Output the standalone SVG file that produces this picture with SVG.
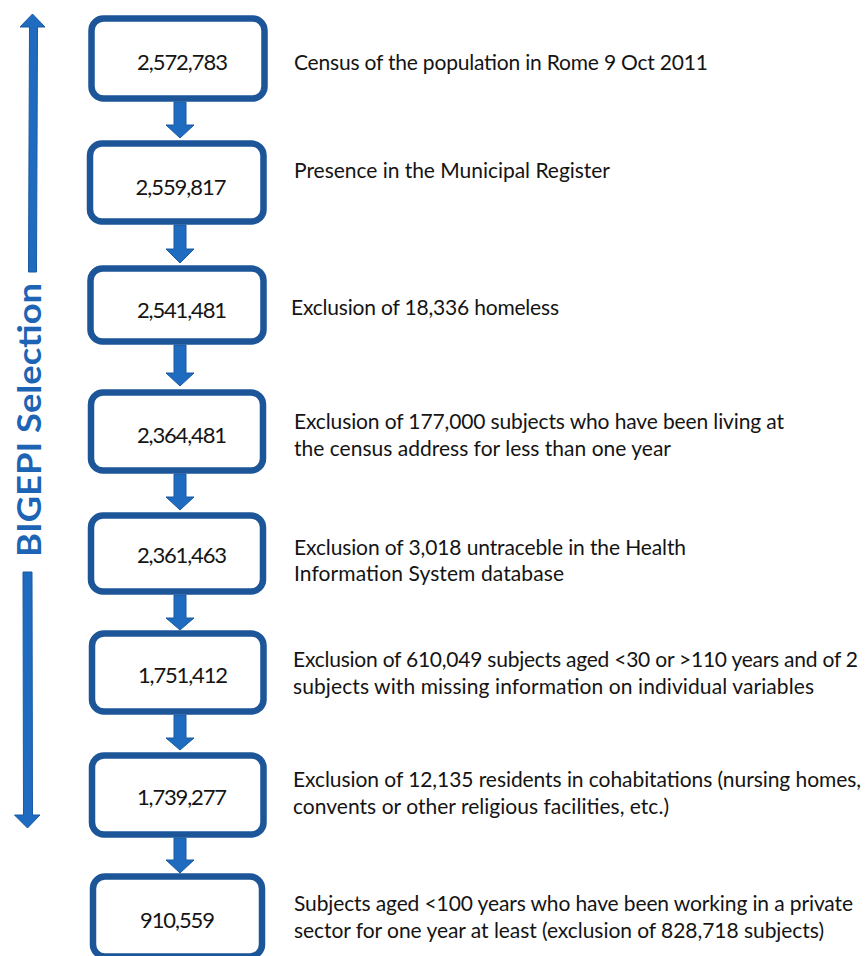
<svg xmlns="http://www.w3.org/2000/svg" width="866" height="956" viewBox="0 0 866 956">
<style>
.box{fill:#ffffff;stroke:#1c5699;stroke-width:6.5}
.num{font-family:Lato,"Liberation Sans",sans-serif;font-size:22px;fill:#141414;text-anchor:middle}
.lbl{font-family:Lato,"Liberation Sans",sans-serif;font-size:21px;fill:#141414}
.arr{fill:#1e6bbf;stroke:#1a5aa2;stroke-width:1}
.side{font-family:Lato,"Liberation Sans",sans-serif;font-size:33px;font-weight:bold;fill:#1e64b4}
</style>
<rect x="0" y="0" width="866" height="956" fill="#ffffff"/>
<g id="side-arrow">
<polygon class="arr" points="32.5,14 45,27 37.5,27 36.5,272 28.5,272 29.5,27 20,27"/>
<polygon class="arr" points="23,572 32,572 32.5,815 40,815 27.5,828 14.5,815 23.5,815"/>
<text class="side" transform="translate(41,557) rotate(-90)" textLength="274" lengthAdjust="spacingAndGlyphs">BIGEPI Selection</text>
</g>
<g id="connectors">
<polygon class="arr" points="174,102 186,102 186,125 194,125 180,138 166,125 174,125"/>
<polygon class="arr" points="174,225 186,225 186,249 194,249 180,263 166,249 174,249"/>
<polygon class="arr" points="174,345 186,345 186,373 194,373 180,386 166,373 174,373"/>
<polygon class="arr" points="174,474 186,474 186,497 194,497 180,510 166,497 174,497"/>
<polygon class="arr" points="174,595 186,595 186,618 194,618 180,630 166,618 174,618"/>
<polygon class="arr" points="174,715 186,715 186,738 194,738 180,750 166,738 174,738"/>
<polygon class="arr" points="174,838 186,838 186,860 194,860 180,873 166,860 174,860"/>
</g>
<g id="n1">
<rect class="box" x="91.5" y="18.5" width="173" height="80" rx="12"/>
<text class="num" x="182.5" y="70" textLength="91">2,572,783</text>
<text class="lbl" x="294" y="70" textLength="414">Census of the population in Rome 9 Oct 2011</text>
</g>
<g id="n2">
<rect class="box" x="90" y="143.5" width="173.5" height="78" rx="12"/>
<text class="num" x="181" y="195" textLength="91">2,559,817</text>
<text class="lbl" x="294" y="178" textLength="316">Presence in the Municipal Register</text>
</g>
<g id="n3">
<rect class="box" x="90.5" y="268.5" width="173" height="73" rx="12"/>
<text class="num" x="182" y="318" textLength="90">2,541,481</text>
<text class="lbl" x="291" y="315" textLength="268">Exclusion of 18,336 homeless</text>
</g>
<g id="n4">
<rect class="box" x="91" y="392.5" width="172" height="78" rx="12"/>
<text class="num" x="182" y="443" textLength="90">2,364,481</text>
<text class="lbl" x="294" y="429" textLength="490">Exclusion of 177,000 subjects who have been living at</text>
<text class="lbl" x="294" y="456" textLength="377">the census address for less than one year</text>
</g>
<g id="n5">
<rect class="box" x="91" y="515.5" width="172" height="76" rx="12"/>
<text class="num" x="182" y="563" textLength="90">2,361,463</text>
<text class="lbl" x="294" y="555" textLength="392">Exclusion of 3,018 untraceble in the Health</text>
<text class="lbl" x="294" y="581" textLength="270">Information System database</text>
</g>
<g id="n6">
<rect class="box" x="92" y="633.5" width="171.5" height="78" rx="12"/>
<text class="num" x="183" y="683" textLength="90">1,751,412</text>
<text class="lbl" x="293" y="667" textLength="565">Exclusion of 610,049 subjects aged &lt;30 or &gt;110 years and of 2</text>
<text class="lbl" x="293" y="694" textLength="521">subjects with missing information on individual variables</text>
</g>
<g id="n7">
<rect class="box" x="92" y="755.5" width="171.5" height="79" rx="12"/>
<text class="num" x="182" y="805" textLength="90">1,739,277</text>
<text class="lbl" x="293" y="787" textLength="568">Exclusion of 12,135 residents in cohabitations (nursing homes,</text>
<text class="lbl" x="293" y="814" textLength="376">convents or other religious facilities, etc.)</text>
</g>
<g id="n8">
<rect class="box" x="93" y="876.5" width="169" height="80" rx="12"/>
<text class="num" x="177.5" y="928" textLength="75">910,559</text>
<text class="lbl" x="294" y="911" textLength="559">Subjects aged &lt;100 years who have been working in a private</text>
<text class="lbl" x="294" y="938" textLength="530">sector for one year at least (exclusion of 828,718 subjects)</text>
</g>
</svg>
